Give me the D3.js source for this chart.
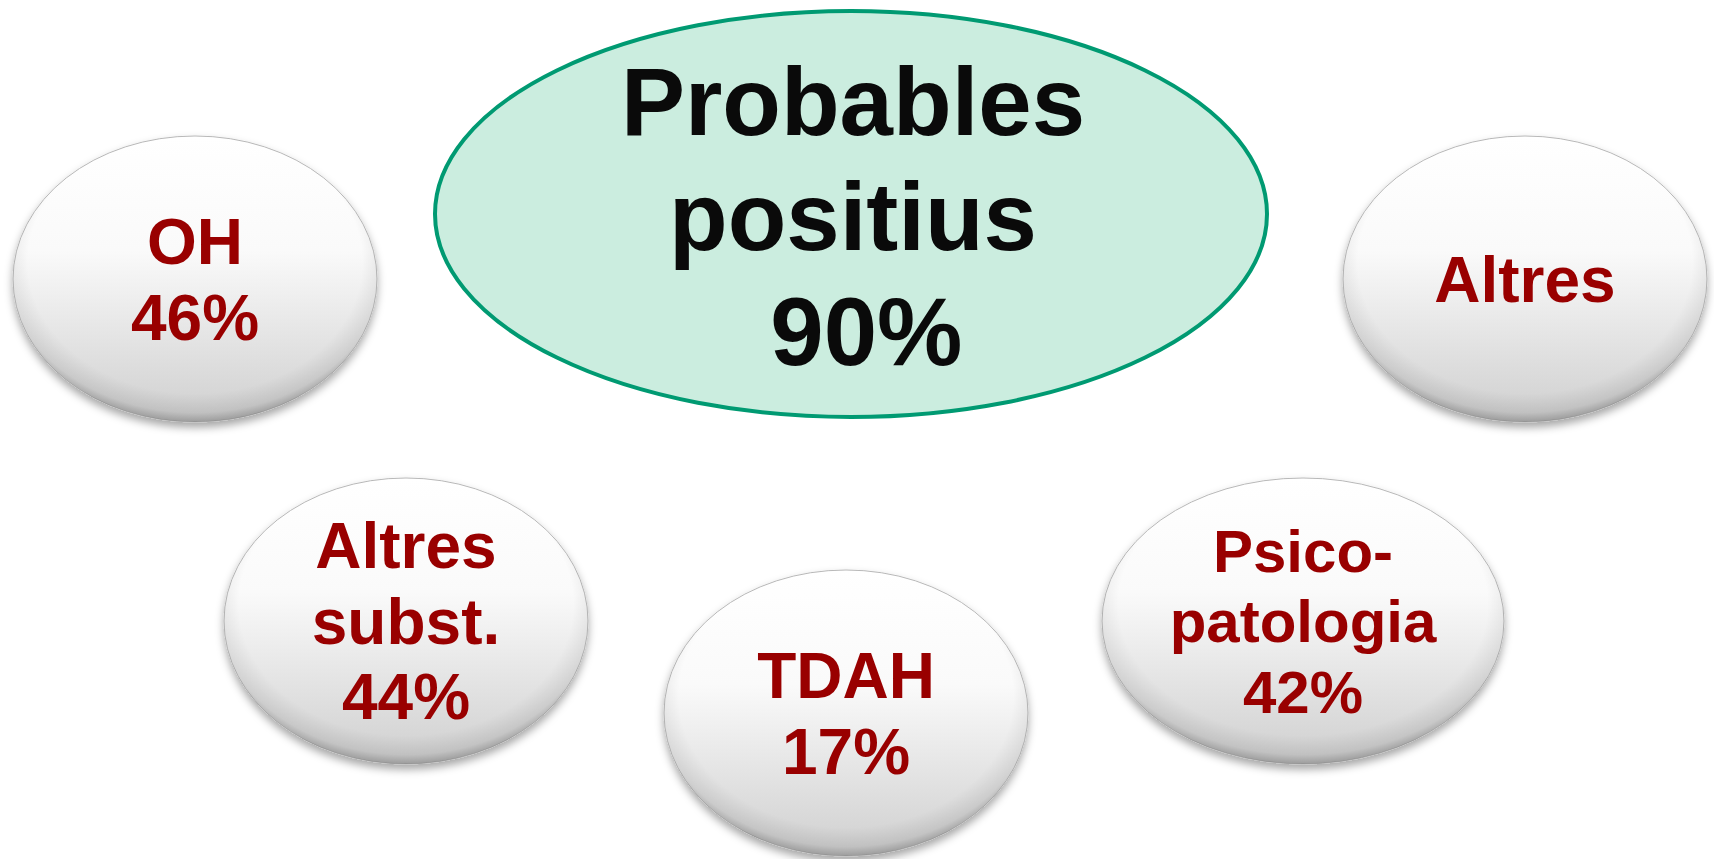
<!DOCTYPE html>
<html>
<head>
<meta charset="utf-8">
<script src="https://cdn.jsdelivr.net/npm/d3@7"></script>
<style>
  html, body { margin: 0; padding: 0; background: #ffffff; }
  svg { display: block; }
</style>
</head>
<body>
<script>
// data
var mainLines = ["Probables", "positius", " 90%"];
var categories = [["OH"], ["Altres", "subst."], ["TDAH"], ["Psico-", "patologia"], ["Altres"]];
var values = [46, 44, 17, 42, null];

// layout (slot centres of each bubble, pixels)
var slotX = [195, 406, 846, 1303, 1525];
var slotY = [279, 621, 713, 621, 279];
var slotRx = [182, 182, 182, 201, 182];
var fontSizes = [64, 64, 64, 60, 64];

var w = 1714, h = 859;
var svg = d3.select("body")
    .append("svg")
    .attr("width", w)
    .attr("height", h);

var defs = svg.append("defs");

//white to grey body of each bubble
var body = defs.append("linearGradient")
    .attr("id", "bubbleFill")
    .attr("x1", 0).attr("y1", 0).attr("x2", 0).attr("y2", 1);
body.append("stop").attr("offset", "0%").attr("stop-color", "#ffffff");
body.append("stop").attr("offset", "40%").attr("stop-color", "#fafafa");
body.append("stop").attr("offset", "100%").attr("stop-color", "#cfcfcf");

//darker rim near the edges
var rim = defs.append("radialGradient")
    .attr("id", "bubbleRim")
    .attr("cx", 0.5).attr("cy", 0.45).attr("r", 0.56)
    .attr("fx", 0.5).attr("fy", 0.4);
rim.append("stop").attr("offset", "82%").attr("stop-color", "#000").attr("stop-opacity", 0);
rim.append("stop").attr("offset", "93%").attr("stop-color", "#000").attr("stop-opacity", 0.08);
rim.append("stop").attr("offset", "100%").attr("stop-color", "#000").attr("stop-opacity", 0.3);

var shadow = defs.append("filter")
    .attr("id", "drop")
    .attr("x", "-10%").attr("y", "-10%")
    .attr("width", "120%").attr("height", "125%");
shadow.append("feDropShadow")
    .attr("dx", 0).attr("dy", 5)
    .attr("stdDeviation", 4)
    .attr("flood-color", "#000")
    .attr("flood-opacity", 0.35);

//central ellipse
var centre = svg.append("g").attr("class", "centre");
centre.append("ellipse")
    .attr("cx", 851)
    .attr("cy", 214)
    .attr("rx", 416)
    .attr("ry", 203)
    .style("fill", "#cbeddf")
    .style("stroke", "#009a72")
    .style("stroke-width", 4);

var mainFont = 96, mainLead = 115;
centre.append("text")
    .attr("text-anchor", "middle")
    .style("font-family", "'Liberation Sans', Arial, sans-serif")
    .style("font-weight", "bold")
    .style("font-size", mainFont + "px")
    .style("fill", "#0a0a0a")
    .style("white-space", "pre")
    .selectAll("tspan")
    .data(mainLines)
    .enter()
    .append("tspan")
    .attr("x", 853)
    .attr("y", function(d, i){
        return 214 - (mainLines.length - 1) * mainLead / 2 + mainFont * 0.716 / 2 + 2 + i * mainLead;
    })
    .text(function(d){ return d; });

//the five outer bubbles
var bubbles = categories.map(function(c, i){
    var lines = c.slice();
    if (values[i] != null) lines.push(values[i] + "%");
    return {lines: lines, x: slotX[i], y: slotY[i], rx: slotRx[i], ry: 143, fs: fontSizes[i]};
});

var groups = svg.selectAll(".bubble")
    .data(bubbles)
    .enter()
    .append("g")
    .attr("class", "bubble")
    .attr("transform", function(d){ return "translate(" + d.x + "," + d.y + ")"; });

groups.append("ellipse")
    .attr("rx", function(d){ return d.rx; })
    .attr("ry", function(d){ return d.ry; })
    .attr("filter", "url(#drop)")
    .style("fill", "url(#bubbleFill)")
    .style("stroke", "#b8b8b8")
    .style("stroke-width", 1);

groups.append("ellipse")
    .attr("rx", function(d){ return d.rx; })
    .attr("ry", function(d){ return d.ry; })
    .style("fill", "url(#bubbleRim)");

groups.append("text")
    .attr("text-anchor", "middle")
    .style("font-family", "'Liberation Sans', Arial, sans-serif")
    .style("font-weight", "bold")
    .style("font-size", function(d){ return d.fs + "px"; })
    .style("fill", "#990000")
    .selectAll("tspan")
    .data(function(d){
        var lead = d.fs * 1.18;
        return d.lines.map(function(t, i){
            return {t: t, y: -(d.lines.length - 1) * lead / 2 + d.fs * 0.716 / 2 + i * lead};
        });
    })
    .enter()
    .append("tspan")
    .attr("x", 0)
    .attr("y", function(d){ return d.y; })
    .text(function(d){ return d.t; });
</script>
</body>
</html>
